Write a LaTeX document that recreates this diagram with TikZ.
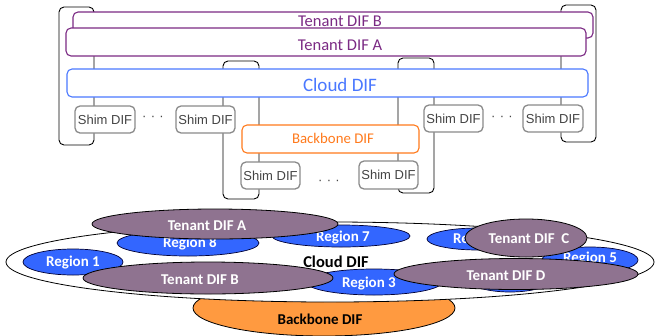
\documentclass[tikz,border=0pt]{standalone}
\usepackage{fontspec}
\setmainfont{Carlito}
\newfontfamily\arialfont{Liberation Sans}
\usetikzlibrary{shapes.geometric}

\definecolor{tenantpurple}{HTML}{7B2A84}
\definecolor{cloudblue}{HTML}{4A78FF}
\definecolor{bbone}{HTML}{FF7A1C}
\definecolor{shimgray}{HTML}{8A8A8A}
\definecolor{shimtext}{HTML}{444444}
\definecolor{regionblue}{HTML}{3366FF}
\definecolor{tenantmauve}{HTML}{8F7390}
\definecolor{bborange}{HTML}{FF9A40}

\tikzset{
  bracketbox/.style={draw=black, line width=0.9pt, rounded corners=5pt},
  difbox/.style={fill=white, line width=1.1pt, rounded corners=5pt},
  shimbox/.style={difbox, draw=shimgray, line width=1.3pt},
  shimlabel/.style={font=\arialfont\fontsize{13}{13}\selectfont, text=shimtext, inner sep=0pt},
  dotlabel/.style={font=\arialfont\fontsize{13}{13}\selectfont, text=shimtext, inner sep=0pt},
  regionell/.style={fill=regionblue, draw=black!80!blue, line width=0.7pt},
  tenantell/.style={fill=tenantmauve, draw=black, line width=0.8pt},
  whitelabel/.style={text=white, font=\bfseries\fontsize{15}{15}\selectfont, inner sep=0pt},
}

\begin{document}
\begin{tikzpicture}[x=1pt, y=-1pt]
  \useasboundingbox (0,0) rectangle (655,335);

  % ---------- layered view ----------
  % brackets that group the layers of each system
  \draw[bracketbox] (59,7) rectangle (94,145);
  \draw[bracketbox] (561,5) rectangle (596,142);
  \draw[bracketbox] (223,61) rectangle (259,199);
  \draw[bracketbox] (398,58) rectangle (434,193);

  % tenant layers
  \draw[difbox, draw=tenantpurple] (73,12) rectangle (593,38);
  \node[text=tenantpurple, font=\fontsize{16.5}{16.5}\selectfont, inner sep=0pt] (tenB) at (340,21.5) {Tenant DIF B};
  \draw[difbox, draw=tenantpurple] (66,28) rectangle (586,56);
  \node[text=tenantpurple, font=\fontsize{16.5}{16.5}\selectfont, inner sep=0pt] (tenA) at (340,45) {Tenant DIF A};

  % cloud layer
  \draw[difbox, draw=cloudblue] (67,69) rectangle (588,97);
  \node[text=cloudblue, font=\fontsize{19}{19}\selectfont, inner sep=0pt] (cloud) at (340,85) {Cloud DIF};

  % backbone layer
  \draw[difbox, draw=bbone] (242,125) rectangle (419,153);
  \node[text=bbone, font=\fontsize{14.8}{14.8}\selectfont, inner sep=0pt] (bbtop) at (333,138) {Backbone DIF};

  % shim layers
  \draw[shimbox] (75,106) rectangle (135,133);
  \node[shimlabel] (shim1) at (105,119.5) {Shim DIF};
  \draw[shimbox] (176,106) rectangle (235,133);
  \node[shimlabel] (shim2) at (205.5,119.5) {Shim DIF};
  \draw[shimbox] (241,162) rectangle (300,189);
  \node[shimlabel] (shim3) at (270.5,175.5) {Shim DIF};
  \draw[shimbox] (359,161) rectangle (418,189);
  \node[shimlabel] (shim4) at (388.5,175) {Shim DIF};
  \draw[shimbox] (424,105) rectangle (483,132);
  \node[shimlabel] (shim5) at (453.5,118.5) {Shim DIF};
  \draw[shimbox] (523,105) rectangle (583,132);
  \node[shimlabel] (shim6) at (553,118.5) {Shim DIF};

  \node[dotlabel] (dotsL) at (153,118) {·\,\,·\,\,·};
  \node[dotlabel] (dotsR) at (502,118) {·\,\,·\,\,·};
  \node[dotlabel] (dotsM) at (329,182) {·\,\,·\,\,·};

  % ---------- overlapping view ----------
  \filldraw[fill=bborange, draw=black, line width=0.8pt] (324,308) ellipse [x radius=131, y radius=28];
  \node[font=\bfseries\fontsize{15}{15}\selectfont, inner sep=0pt] (bbbot) at (320,319) {Backbone DIF};

  \filldraw[fill=white, draw=black, line width=0.8pt] (330,262) ellipse [x radius=324, y radius=40];
  \node[font=\bfseries\fontsize{16.5}{16.5}\selectfont, inner sep=0pt] (cloudbot) at (336,262) {Cloud DIF};

  % regions
  \filldraw[regionell] (73,262) ellipse [x radius=50, y radius=13];
  \node[whitelabel] (reg1) at (73,263) {Region 1};
  \filldraw[regionell] (188,243) ellipse [x radius=71, y radius=13];
  \node[whitelabel] (reg8) at (190,244) {Region 8};
  \filldraw[regionell] (341,236) ellipse [x radius=69, y radius=11];
  \node[whitelabel] (reg7) at (343,238) {Region 7};
  \filldraw[regionell] (478,239) ellipse [x radius=51, y radius=11];
  \node[whitelabel] (reg4) at (480,240) {Region 4};
  \filldraw[regionell] (590,260) ellipse [x radius=48, y radius=13];
  \node[whitelabel] (reg5) at (590,259) {Region 5};
  \filldraw[regionell] (510,277) ellipse [x radius=45, y radius=15];
  \filldraw[regionell] (374,282) ellipse [x radius=68, y radius=13];
  \node[whitelabel] (reg3) at (369,284) {Region 3};

  % tenants
  \filldraw[tenantell] (215,224) ellipse [x radius=123, y radius=15];
  \node[whitelabel] (tA) at (207,226) {Tenant DIF A};
  \filldraw[tenantell] (208,278) ellipse [x radius=125, y radius=16];
  \node[whitelabel] (tB) at (200,280) {Tenant DIF B};
  \filldraw[tenantell] (526,238) ellipse [x radius=61, y radius=19];
  \node[whitelabel] (tC) at (529,239) {Tenant DIF\ \ C};
  \filldraw[tenantell] (516,274) ellipse [x radius=122, y radius=15.5];
  \node[whitelabel] (tD) at (506,276) {Tenant DIF D};
\end{tikzpicture}
\end{document}
